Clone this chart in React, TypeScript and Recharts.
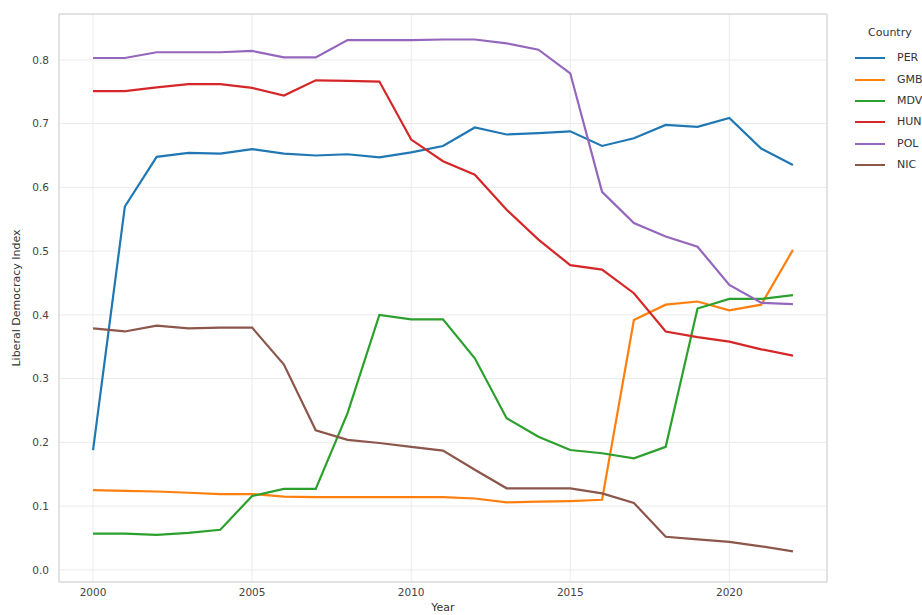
import React from 'react';
import { LineChart, Line, XAxis, YAxis, CartesianGrid, ReferenceArea } from 'recharts';

// Liberal Democracy Index by country, 2000–2022
const years = [2000, 2001, 2002, 2003, 2004, 2005, 2006, 2007, 2008, 2009, 2010, 2011, 2012, 2013, 2014, 2015, 2016, 2017, 2018, 2019, 2020, 2021, 2022];

const PER = [0.188, 0.570, 0.648, 0.654, 0.653, 0.660, 0.653, 0.650, 0.652, 0.647, 0.655, 0.665, 0.694, 0.683, 0.685, 0.688, 0.665, 0.677, 0.698, 0.695, 0.709, 0.661, 0.635];
const GMB = [0.125, 0.124, 0.123, 0.121, 0.119, 0.119, 0.115, 0.114, 0.114, 0.114, 0.114, 0.114, 0.112, 0.106, 0.107, 0.108, 0.110, 0.392, 0.416, 0.421, 0.407, 0.416, 0.502];
const MDV = [0.057, 0.057, 0.055, 0.058, 0.063, 0.116, 0.127, 0.127, 0.246, 0.400, 0.393, 0.393, 0.332, 0.238, 0.209, 0.188, 0.183, 0.175, 0.193, 0.410, 0.425, 0.425, 0.431];
const HUN = [0.751, 0.751, 0.757, 0.762, 0.762, 0.756, 0.744, 0.768, 0.767, 0.766, 0.675, 0.641, 0.620, 0.565, 0.518, 0.478, 0.471, 0.434, 0.374, 0.365, 0.358, 0.346, 0.336];
const POL = [0.803, 0.803, 0.812, 0.812, 0.812, 0.814, 0.804, 0.804, 0.831, 0.831, 0.831, 0.832, 0.832, 0.826, 0.816, 0.779, 0.593, 0.544, 0.523, 0.507, 0.447, 0.419, 0.417];
const NIC = [0.379, 0.374, 0.383, 0.379, 0.380, 0.380, 0.322, 0.219, 0.204, 0.199, 0.193, 0.187, 0.157, 0.128, 0.128, 0.128, 0.120, 0.105, 0.052, 0.048, 0.044, 0.037, 0.029];

const countries = ['PER', 'GMB', 'MDV', 'HUN', 'POL', 'NIC'];
const seriesValues = [PER, GMB, MDV, HUN, POL, NIC];
const colors = ['#1f77b4', '#ff7f0e', '#2ca02c', '#d62728', '#9467bd', '#8c564b'];

const xTicks = [2000, 2005, 2010, 2015, 2020];
const yTicks = [0, 0.1, 0.2, 0.3, 0.4, 0.5, 0.6, 0.7, 0.8];

const data = years.map((year, i) => {
  const row: Record<string, number> = { year };
  countries.forEach((c, k) => {
    row[c] = seriesValues[k][i];
  });
  return row;
});

const X_DOMAIN: [number, number] = [1998.93, 2023.07];
const Y_DOMAIN: [number, number] = [-0.019, 0.872];

const FONT = 'DejaVu Sans, sans-serif';

// Legend placed outside the plot, to the right, clipped by the figure edge
const CountryLegend = () => (
  <div style={{ position: 'absolute', left: 852, top: 22, fontFamily: FONT, fontSize: 11, color: '#333', whiteSpace: 'nowrap' }}>
    <div style={{ height: 25, lineHeight: '22px', paddingLeft: 16 }}>Country</div>
    {countries.map((c, k) => (
      <div key={c} style={{ display: 'flex', alignItems: 'center', height: 21.4 }}>
        <svg width={45} height={21}>
          <line x1={3} x2={33} y1={11} y2={11} stroke={colors[k]} strokeWidth={2} />
        </svg>
        <span style={{ lineHeight: '21px' }}>{c}</span>
      </div>
    ))}
  </div>
);

export default function App() {
  return (
    <div style={{ position: 'absolute', left: 0, top: 0, width: 922, height: 615, overflow: 'hidden', background: '#fff' }}>
      <LineChart width={922} height={615} data={data} margin={{ top: 14, right: 95, bottom: 4, left: 0 }}>
        <CartesianGrid stroke="#ebebeb" strokeWidth={1} />
        <XAxis
          dataKey="year"
          type="number"
          domain={X_DOMAIN}
          ticks={xTicks}
          allowDataOverflow
          tickLine={false}
          axisLine={false}
          height={29}
          tick={{ fontFamily: FONT, fontSize: 10.5, fill: '#444' }}
          tickMargin={1}
          label={{ value: 'Year', position: 'insideBottom', offset: 0, style: { fontFamily: FONT, fontSize: 11, fill: '#333' } }}
        />
        <YAxis
          type="number"
          domain={Y_DOMAIN}
          ticks={yTicks}
          allowDataOverflow
          tickLine={false}
          axisLine={false}
          width={59}
          tick={{ fontFamily: FONT, fontSize: 10.5, fill: '#444' }}
          tickFormatter={(v: number) => v.toFixed(1)}
          tickMargin={4}
          label={{ value: 'Liberal Democracy Index', angle: -90, position: 'insideLeft', offset: 16, style: { fontFamily: FONT, fontSize: 11, fill: '#333', textAnchor: 'middle' } }}
        />
        <ReferenceArea x1={X_DOMAIN[0]} x2={X_DOMAIN[1]} y1={Y_DOMAIN[0]} y2={Y_DOMAIN[1]} fill="none" fillOpacity={0} stroke="#d0d0d0" strokeWidth={1} />
        {countries.map((c, k) => (
          <Line
            key={c}
            dataKey={c}
            type="linear"
            stroke={colors[k]}
            strokeWidth={2.2}
            dot={false}
            activeDot={false}
            isAnimationActive={false}
          />
        ))}
      </LineChart>
      <CountryLegend />
    </div>
  );
}
